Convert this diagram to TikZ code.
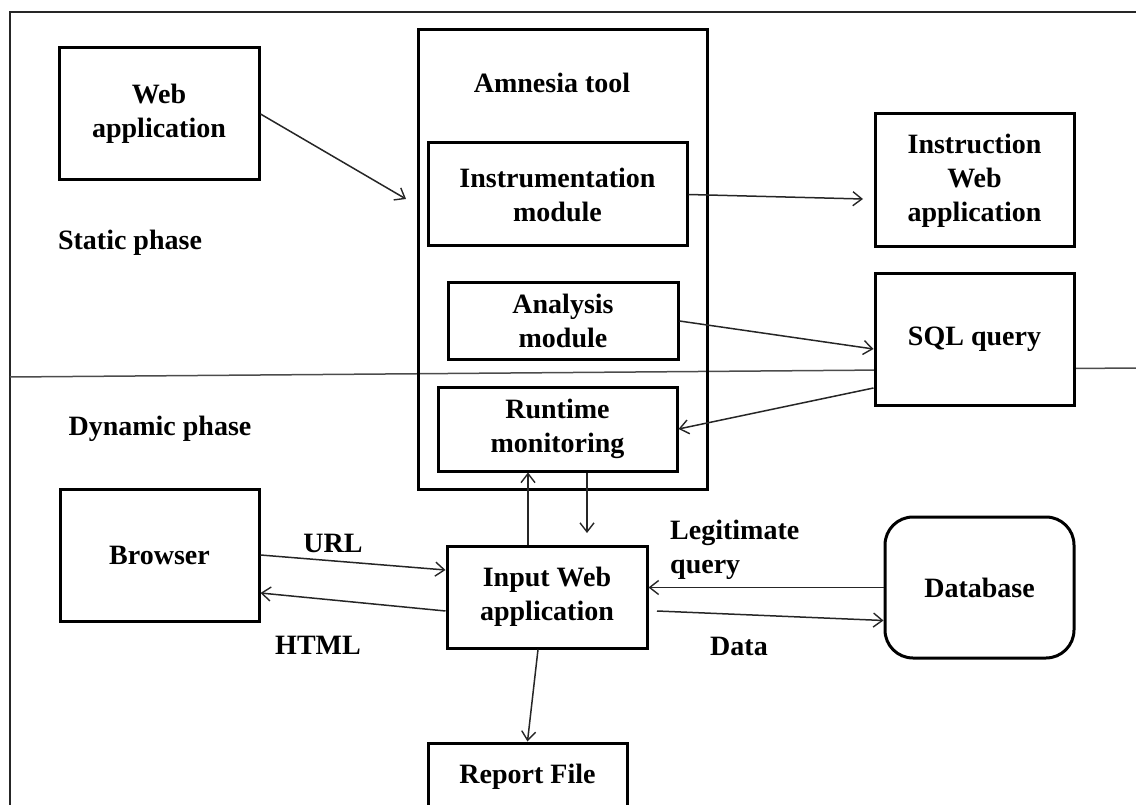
\documentclass[tikz,border=0pt]{standalone}
\usepackage{fontspec}
\setmainfont{Liberation Serif}
\usetikzlibrary{arrows.meta,calc}
\begin{document}
\begin{tikzpicture}[x=1pt,y=-1pt,
  txt/.style={font=\bfseries\fontsize{28}{34}\selectfont, align=center, inner sep=0pt},
  box/.style={txt, draw, line width=3pt, fill=white},
  lbl/.style={txt},
  arr/.style={draw=black!85, line width=1.5pt, -{Straight Barb[length=9pt,width=14pt,line width=1.4pt]}},
  frame/.style={draw=black!85, line width=2pt}]
\useasboundingbox (0,0) rectangle (1136,805);
\clip (0,0) rectangle (1136,805);
% frame and phase divider
\draw[frame] (10,805) -- (10,12) -- (1136,12);
\draw[draw=black!70, line width=1.5pt] (10,377) -- (1136,368);
% Amnesia container
\node[txt, draw, line width=3pt, minimum width=289pt, minimum height=459pt] (amnesia) at (562.5,259.5) {};
\node[lbl] (amtitle) at (552,83) {Amnesia tool};
% boxes
\node[box, minimum width=200pt, minimum height=132pt] (web) at (159,114) {Web\\application};
\node[box, minimum width=259pt, minimum height=103pt] (instr) at (557.5,194.5) {Instrumentation\\module};
\node[box, minimum width=199pt, minimum height=133pt] (instw) at (974.5,180.5) {Instruction\\Web\\application};
\node[box, minimum width=230pt, minimum height=76pt] (analysis) at (563,321) {Analysis\\module};
\node[box, minimum width=199pt, minimum height=131pt] (sql) at (974.5,339.5) {SQL query};
\node[box, minimum width=239pt, minimum height=84pt] (runtime) at (557.5,429) {Runtime\\monitoring};
\node[box, minimum width=199pt, minimum height=132pt] (browser) at (159.5,555) {Browser};
\node[box, minimum width=200pt, minimum height=102pt] (input) at (547,597) {Input Web\\application};
\node[box, minimum width=199pt, minimum height=68pt] (report) at (527.5,777) {Report File};
\node[box, rounded corners=28pt, minimum width=189pt, minimum height=141pt] (db) at (979.5,587.5) {Database};
% labels
\node[lbl] (static) at (130,243) {Static phase};
\node[lbl] (dynamic) at (160,429) {Dynamic phase};
\node[lbl] (url) at (333,543) {URL};
\node[lbl] (html) at (318,645) {HTML};
\node[lbl, align=left, anchor=west] (legit) at (670,550) {Legitimate\\query};
\node[lbl] (data) at (739,646) {Data};
% free ends
\coordinate (e1) at (406,199);
\coordinate (e2) at (863,199);
\coordinate (e6) at (587,533);
\coordinate (s10) at (657,611);
% connectors
\draw[arr] (web.east) -- (e1);
\draw[arr] (instr.east) -- (e2);
\draw[arr] (analysis.east) -- ([yshift=-9.5pt]sql.west);
\draw[arr] ([yshift=-48.5pt]sql.west) -- (runtime.east);
\draw[arr] ([xshift=-19pt]input.north) -- ([xshift=-19pt]input.north |- runtime.south);
\draw[arr] ([xshift=29.5pt]runtime.south) -- (e6);
\draw[arr] (browser.east) -- ([yshift=27pt]input.west);
\draw[arr] ([yshift=-14pt]input.west) -- ([yshift=-38pt]browser.east);
\draw[arr] (db.west) -- (db.west -| input.east);
\draw[arr] (s10) -- ([yshift=-33pt]db.west);
\draw[arr] ([xshift=-9pt]input.south) -- (report.north);
\end{tikzpicture}
\end{document}
